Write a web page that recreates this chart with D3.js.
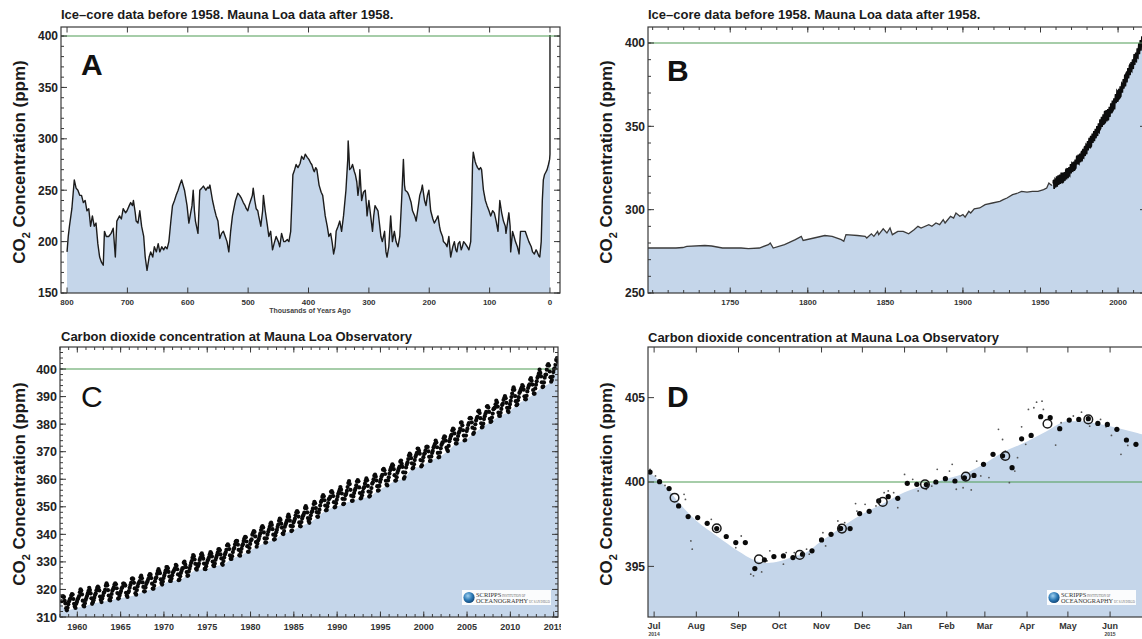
<!DOCTYPE html>
<html>
<head>
<meta charset="utf-8">
<script src="https://cdn.jsdelivr.net/npm/d3@7"></script>
<style>
  body { margin: 0; background: #fff; }
  svg { display: block; font-family: "Liberation Sans", Arial, Helvetica, sans-serif; }
</style>
</head>
<body>
<svg id="chart" width="1142" height="639"></svg>
<script>
// ---------------- data ----------------

// Ice-core CO2 over the last 800,000 years: [thousands of years ago, ppm]
const iceCore800k = [
  [800,190],[798,205],[796,215],[792,232],[788,260],[785,252],[782,250],[779,245],[776,245],[773,238],
  [770,240],[767,230],[764,232],[761,215],[758,225],[755,215],[752,218],[749,198],[746,185],[743,180],
  [740,177],[738,210],[735,205],[731,205],[727,208],[723.5,213],[720,185],[717.5,220],[713,225],[710,222],
  [707,232],[703,228],[700.6,230],[697,235],[694.6,238],[691.6,235],[690,240],[687,228],[685.5,220],[682.5,218],
  [679.5,230],[676.5,215],[673,205],[670.5,185],[667.5,172],[664,185],[661.4,190],[658,185],[655.4,195],[652,190],
  [649,198],[646.4,190],[643,195],[640,192],[637.3,195],[634.3,193],[631.3,200],[628,220],[625.3,235],[622,240],
  [619.3,245],[616,250],[613.3,255],[610.2,260],[605.4,250],[601.2,235],[598.2,218],[595.2,228],[593,235],[591,250],
  [589,230],[587.3,220],[583.1,208],[580.1,250],[577,252],[574.1,254],[570,250],[567,253],[565.1,252],[563.3,255],
  [559,240],[556,232],[553,225],[550,220],[547,203],[544,208],[541,210],[538,205],[535,200],[532,190],
  [529,210],[526,225],[521,240],[517,247],[514,245],[511,242],[508,238],[505,235],[503,232],[500.6,230],
  [498,236],[495.8,240],[493,245],[491.6,252],[489,240],[486.7,232],[484,230],[482.5,225],[479,215],[476,230],
  [474.7,245],[471.7,230],[468,215],[465.7,205],[462.7,210],[459.6,192],[457,198],[453.6,205],[450,200],[447.6,195],
  [444.6,208],[441,200],[438.6,200],[435,202],[432.5,200],[429.5,210],[427.5,240],[425.9,265],[423,270],[420.5,275],
  [417.5,272],[414,276],[411.4,283],[408,280],[405.4,285],[402,282],[399.4,280],[396,276],[394.6,275],[392,270],
  [390.4,268],[388,272],[386.1,270],[382.5,255],[379,248],[376.5,245],[372.3,225],[369,215],[366.3,205],[363.3,208],
  [361,200],[358.4,188],[356,195],[354.2,210],[351,215],[348.2,220],[345.2,210],[342,225],[340.4,235],[338,250],
  [335,280],[334.3,298],[333,285],[331.9,270],[329,272],[327.1,275],[324,268],[322.3,265],[320,258],[318.1,245],
  [316,255],[315,270],[313,250],[312,240],[309,248],[306,250],[304,235],[303,225],[300,240],[297,225],
  [294,210],[292,225],[289.8,235],[287,232],[284.9,230],[282,215],[280.1,205],[277.7,200],[274,210],[271.7,190],
  [269.9,185],[267,195],[263.9,225],[261,200],[257.8,210],[255,200],[251.8,195],[248.8,205],[245.8,240],[242.8,280],
  [241,255],[239.8,250],[236,248],[233.7,245],[230,238],[227.7,230],[224,225],[221.7,220],[218,235],[215.7,245],
  [213,250],[211.4,255],[209,245],[207.8,240],[205.4,235],[203,245],[200.6,250],[197.6,230],[194,222],[191.6,218],
  [188,222],[185.5,225],[183,215],[181.3,210],[178,205],[176.5,200],[173,198],[170.5,195],[167.5,205],[164.5,185],
  [161,195],[158.4,200],[156,192],[154.2,190],[152,198],[149.4,200],[147,192],[145.2,195],[143,200],[140.4,198],
  [137,195],[134.3,192],[131.3,200],[129.5,240],[128.3,275],[127.1,287],[124,278],[122.3,275],[120,272],[117.5,270],
  [115,272],[113.3,270],[110.2,250],[107,240],[104.2,235],[101,230],[98.2,225],[95,230],[92.2,228],[89.2,220],
  [86.1,210],[83.1,240],[80,228],[77.1,220],[74,215],[72.9,208],[70,220],[68.1,228],[66,215],[65.1,190],
  [62,210],[59.5,205],[57.2,200],[54,195],[51.2,188],[48.8,210],[45,210],[41,210],[38,205],[35,200],
  [31,195],[28.9,190],[25.9,188],[23,192],[21.1,190],[18.5,186],[16.9,185],[14.5,200],[12.7,240],[11,260],
  [9.1,265],[6.5,268],[4.8,270],[2.5,275],[0.6,280],[0,285],[0,401]
];

// Ice-core CO2 from 1700 to 1958: [year, ppm]
const iceCore300y = [
  [1697,277],[1705,277],[1715,277],[1719.5,277.3],[1722,278],[1733.6,278.5],[1738,278.2],[1745,277],[1757,277],[1761.7,276.6],
  [1768.8,277],[1774.6,279],[1775.8,280],[1777.7,277],[1785,279],[1792,282],[1795.8,284],[1797,281.5],[1804,283],[1811,284.5],
  [1815.7,284],[1821.6,282],[1823.2,281],[1824.6,285],[1832,284.5],[1837,284],[1838,283],[1841,285.5],[1842.6,284],[1845,287],
  [1845.7,285],[1848.6,288.5],[1851,286],[1853,289],[1854.5,285],[1858,287],[1861.5,287],[1865,285.5],[1868.5,288],[1871,290],
  [1873,289],[1878,291],[1880,290],[1882.6,292],[1885,291],[1887.3,294],[1888.5,292],[1892,296],[1894,295],[1895.5,298],
  [1898,296],[1900,297],[1901.4,295.5],[1903.8,299],[1905,298],[1907.3,300.5],[1910.8,301],[1914.3,303],[1919,304],[1923.8,305],
  [1926,306],[1928.4,307],[1932,309],[1935.4,310],[1937.8,311],[1941.3,310.5],[1944.8,311],[1948.4,311],[1952,312],[1954,313],
  [1955.4,316],[1956.6,315],[1957.5,314.5]
];

// Mauna Loa monthly means (ppm), one row per year, January..December
const mloFirstYear = 1958;
const mloMonthly = [
  [null,null,315.71,317.45,317.51,317.24,315.86,314.93,313.20,312.43,313.33,314.67],
  [315.62,316.38,316.71,317.72,318.29,318.15,316.54,314.80,313.84,313.26,314.80,315.58],
  [316.43,316.97,317.58,319.02,320.03,319.59,318.18,315.91,314.16,313.83,315.00,316.19],
  [316.93,317.70,318.54,319.48,320.58,319.77,318.57,316.79,314.80,315.38,316.10,317.01],
  [317.94,318.55,319.68,320.57,321.02,320.62,319.61,317.40,316.25,315.42,316.69,317.70],
  [318.74,319.07,319.86,321.38,322.25,321.48,319.74,317.77,316.21,315.99,317.07,318.35],
  [319.57,320.07,320.73,321.77,322.25,321.89,320.44,318.70,316.70,316.79,317.79,318.71],
  [319.44,320.44,320.89,322.13,322.16,321.87,321.39,318.81,317.81,317.30,318.87,319.42],
  [320.62,321.59,322.39,323.87,324.01,323.75,322.39,320.37,318.64,318.10,319.79,321.08],
  [322.07,322.50,323.04,324.42,325.00,324.09,322.55,320.92,319.31,319.31,320.72,321.96],
  [322.57,323.15,323.89,325.02,325.57,325.36,324.14,322.11,320.33,320.25,321.32,322.90],
  [324.00,324.42,325.64,326.66,327.38,326.70,325.89,323.67,322.38,321.78,322.85,324.12],
  [325.06,325.98,326.93,328.13,328.07,327.66,326.35,324.69,323.10,323.07,324.01,325.13],
  [326.17,326.68,327.18,327.78,328.92,328.57,327.34,325.46,323.36,323.57,324.80,326.01],
  [326.77,327.63,327.75,329.72,330.07,329.09,328.05,326.32,324.93,325.06,326.50,327.55],
  [328.55,329.56,330.30,331.50,332.48,332.07,330.87,329.31,327.51,327.18,328.16,328.64],
  [329.35,330.71,331.48,332.65,333.09,332.25,331.18,329.40,327.44,327.37,328.46,329.58],
  [330.45,330.98,331.70,332.80,333.59,333.11,331.98,330.11,328.75,328.44,329.39,330.75],
  [331.56,332.43,333.33,334.52,334.60,334.19,332.72,331.26,329.30,328.94,330.29,331.60],
  [332.72,333.41,334.35,335.95,336.40,335.96,334.64,332.36,331.11,331.05,332.06,333.57],
  [334.66,335.07,336.33,337.39,337.65,337.57,336.25,334.39,332.44,332.25,333.59,334.76],
  [335.89,336.44,337.63,338.54,339.06,338.95,337.41,335.71,333.68,333.69,335.05,336.53],
  [337.81,338.16,339.88,340.57,341.19,340.87,339.25,337.19,335.49,336.63,337.74,338.36],
  [339.44,340.33,341.57,342.56,343.01,342.47,340.71,338.52,336.96,337.13,338.58,339.89],
  [340.93,341.69,342.69,343.79,344.30,343.43,341.88,339.89,338.09,338.23,339.61,340.75],
  [341.61,342.70,343.57,344.92,345.70,345.22,343.88,342.41,340.31,340.09,341.20,342.74],
  [343.54,344.33,345.07,346.37,347.16,346.32,344.96,343.05,341.19,341.45,342.96,344.31],
  [344.93,345.70,346.90,348.02,348.48,348.00,346.44,344.34,343.07,342.91,344.45,345.74],
  [346.58,347.15,347.85,349.55,350.21,349.53,347.94,345.90,344.85,344.17,345.66,346.90],
  [348.02,348.47,349.42,350.99,351.84,351.25,349.52,348.10,346.44,346.36,347.81,348.96],
  [350.43,351.72,352.22,353.59,354.22,353.79,352.38,350.43,348.73,348.88,350.07,351.34],
  [352.76,353.07,353.68,355.42,355.67,355.13,353.90,351.67,349.80,349.99,351.30,352.52],
  [353.66,354.70,355.39,356.20,357.16,356.22,354.82,352.91,350.96,351.18,352.83,354.21],
  [354.72,355.75,357.16,358.60,359.34,358.24,356.17,354.02,352.15,352.21,353.75,354.99],
  [355.98,356.72,357.81,359.15,359.66,359.25,357.02,355.00,353.01,353.31,354.16,355.40],
  [356.70,357.16,358.38,359.46,360.28,359.60,357.57,355.52,353.70,353.98,355.33,356.80],
  [358.36,358.91,359.97,361.26,361.68,360.95,359.55,357.49,355.84,356.00,357.58,359.04],
  [359.96,361.00,361.64,363.45,363.79,363.26,361.90,359.46,358.06,357.75,359.56,360.70],
  [362.05,363.25,364.03,364.72,365.41,364.97,363.65,361.49,359.46,359.60,360.76,362.33],
  [363.18,363.99,364.56,366.36,366.80,365.63,364.47,362.50,360.19,360.78,362.43,364.28],
  [365.33,366.15,367.31,368.61,369.29,368.87,367.64,365.77,363.90,364.23,365.46,366.97],
  [368.15,368.87,369.59,371.14,371.00,370.35,369.27,366.94,364.63,365.12,366.67,368.01],
  [369.14,369.46,370.52,371.66,371.82,371.70,370.12,368.12,366.62,366.73,368.29,369.53],
  [370.28,371.50,372.12,372.87,374.02,373.30,371.62,369.55,367.96,368.09,369.68,371.24],
  [372.44,373.08,373.52,374.85,375.55,375.40,374.02,371.48,370.71,370.24,372.08,373.78],
  [374.68,375.62,376.11,377.65,378.35,378.13,376.62,374.50,372.99,373.01,374.35,375.70],
  [376.79,377.37,378.41,380.52,380.63,379.57,377.79,375.86,374.06,374.24,375.86,377.48],
  [378.37,379.69,380.41,382.10,382.28,382.13,380.66,378.71,376.42,376.88,378.32,379.92],
  [381.36,382.19,382.65,384.65,384.94,384.01,382.15,380.33,378.81,379.06,380.17,381.85],
  [382.88,383.77,384.42,386.36,386.53,386.01,384.45,381.96,380.81,381.09,382.37,383.84],
  [385.42,385.72,385.96,387.18,388.50,387.88,386.38,384.15,383.07,382.98,384.11,385.54],
  [386.92,387.41,388.77,389.46,390.18,389.43,387.74,385.91,384.77,384.38,385.99,387.26],
  [388.45,389.82,391.08,392.46,393.37,392.47,390.19,388.35,386.85,387.24,388.67,389.79],
  [391.33,391.86,392.60,393.25,394.19,393.74,392.51,390.13,389.08,389.00,390.28,391.86],
  [393.12,393.86,394.40,396.18,396.74,395.71,394.36,392.39,391.11,391.05,392.98,394.34],
  [395.55,396.80,397.43,398.41,399.78,398.60,397.32,395.20,393.45,393.70,395.16,396.84],
  [397.85,398.01,399.77,401.38,401.78,401.25,399.10,397.03,395.38,396.03,397.28,398.91],
  [399.98,400.28,401.54,403.28,403.96,402.80]
];

// Mauna Loa, July 2014 - June 2015
const mloDaily = [
  ["2014-06-28",400.75],["2014-07-02",400.36],["2014-07-09",399.80],["2014-07-23",399.27],["2014-07-24",398.97],
  ["2014-07-28",396.51],["2014-07-29",396.02],["2014-08-12",397.79],["2014-08-30",396.11],["2014-09-03",396.80],
  ["2014-09-10",394.54],["2014-09-12",394.44],["2014-09-18",394.67],["2014-09-22",395.33],["2014-09-24",395.92],
  ["2014-10-04",395.13],["2014-10-06",395.82],["2014-10-12",395.82],["2014-10-21",396.02],["2014-10-23",395.72],
  ["2014-11-02",397.00],["2014-11-04",396.21],["2014-11-13",397.69],["2014-11-14",397.44],["2014-11-18",397.59],
  ["2014-11-26",398.72],["2014-11-27",398.28],["2014-12-03",398.68],["2014-12-11",398.58],["2014-12-17",399.37],
  ["2014-12-20",399.47],["2014-12-24",399.37],["2014-12-27",398.48],["2015-01-01",400.45],["2015-01-07",400.16],
  ["2015-01-11",399.47],["2015-01-17",399.57],["2015-01-21",399.76],["2015-01-25",400.75],["2015-02-03",400.65],
  ["2015-02-05",401.05],["2015-02-08",399.57],["2015-02-13",399.66],["2015-02-14",400.16],["2015-02-19",399.53],
  ["2015-02-23",401.24],["2015-02-26",400.36],["2015-03-04",400.26],["2015-03-11",403.12],["2015-03-14",402.52],
  ["2015-03-16",401.83],["2015-03-19",399.96],["2015-03-23",400.65],["2015-03-25",401.44],["2015-03-28",403.27],
  ["2015-03-31",402.23],["2015-04-02",404.30],["2015-04-06",404.40],["2015-04-08",404.73],["2015-04-12",404.79],
  ["2015-04-13",404.30],["2015-04-18",403.67],["2015-04-22",402.19],["2015-04-26",403.51],["2015-05-05",403.91],
  ["2015-05-11",404.14],["2015-05-17",403.31],["2015-05-25",403.71],["2015-05-29",403.27],["2015-06-02",402.76],
  ["2015-06-09",401.64],["2015-06-14",402.17]
];
const mloWeekly = [
  ["2014-06-28",400.59],["2014-07-05",400.02],["2014-07-12",399.61],["2014-07-19",398.58],["2014-07-26",397.95],
  ["2014-08-02",397.89],["2014-08-09",397.55],["2014-08-16",397.24],["2014-08-23",396.77],["2014-08-30",396.41],
  ["2014-09-06",396.41],["2014-09-13",394.87],["2014-09-20",395.38],["2014-09-27",395.58],["2014-10-04",395.62],
  ["2014-10-11",395.52],["2014-10-18",395.72],["2014-10-25",395.92],["2014-11-01",396.57],["2014-11-08",396.90],
  ["2014-11-15",397.25],["2014-11-22",397.24],["2014-11-29",398.13],["2014-12-06",398.26],["2014-12-13",398.88],
  ["2014-12-20",399.13],["2014-12-27",399.03],["2015-01-03",399.92],["2015-01-10",399.86],["2015-01-17",399.85],
  ["2015-01-24",400.00],["2015-01-31",400.20],["2015-02-07",400.06],["2015-02-14",400.25],["2015-02-21",400.39],
  ["2015-02-28",401.05],["2015-03-07",401.64],["2015-03-14",401.55],["2015-03-21",400.85],["2015-03-28",402.56],
  ["2015-04-04",402.76],["2015-04-11",403.87],["2015-04-18",403.81],["2015-04-25",403.16],["2015-05-02",403.67],
  ["2015-05-09",403.71],["2015-05-16",403.75],["2015-05-23",403.47],["2015-05-30",403.41],["2015-06-06",403.12],
  ["2015-06-13",402.49],["2015-06-20",402.23]
];
const mloMonthMeans = [
  ["2014-07-16",399.07],["2014-08-16",397.26],["2014-09-16",395.42],["2014-10-16",395.68],["2014-11-16",397.24],
  ["2014-12-16",398.82],["2015-01-16",399.86],["2015-02-15",400.32],["2015-03-16",401.54],["2015-04-16",403.45],
  ["2015-05-16",403.71]
];
// smooth seasonal fit through the same year
const mloFit = [
  ["2014-06-26",400.7],["2014-07-01",400.35],["2014-07-09",399.76],["2014-07-20",398.7],["2014-08-01",397.7],
  ["2014-08-16",396.8],["2014-09-01",395.9],["2014-09-12",395.4],["2014-09-22",395.2],["2014-10-01",395.3],
  ["2014-10-12",395.6],["2014-10-20",395.8],["2014-11-01",396.5],["2014-11-17",397.4],["2014-12-01",398.1],
  ["2014-12-18",398.8],["2015-01-01",399.4],["2015-01-16",399.8],["2015-02-01",400.2],["2015-02-17",400.6],
  ["2015-03-01",401.1],["2015-03-13",401.7],["2015-04-01",402.4],["2015-04-15",403.0],["2015-05-01",403.6],
  ["2015-05-12",403.6],["2015-05-20",403.5],["2015-06-01",403.3],["2015-06-21",402.9],["2015-07-04",402.6]
];

const referenceLevel = 400;
const titleIce = "Ice\u2013core data before 1958. Mauna Loa data after 1958.";
const titleMlo = "Carbon dioxide concentration at Mauna Loa Observatory";
const ticksA = { x: [800,700,600,500,400,300,200,100,0], y: [150,200,250,300,350,400] };
const ticksB = { x: [1750,1800,1850,1900,1950,2000], y: [250,300,350,400] };
const ticksC = { x: [1960,1965,1970,1975,1980,1985,1990,1995,2000,2005,2010,2015],
                 y: [310,320,330,340,350,360,370,380,390,400] };
const ticksD = { y: [395,400,405], firstMonth: "2014-07-01", lastMonth: "2015-06-01" };
const yearNotesD = [["2014-07-01","2014"],["2015-06-01","2015"]];

// ---------------- drawing ----------------
const svg = d3.select("#chart");
const FILL = "rgb(197,214,234)";
const GREEN = "#4f9c55";
const AXIS = "#3a3a3a";
const parse = d3.timeParse("%Y-%m-%d");

// flatten the monthly table into [decimal year, ppm]
const mloSeries = [];
mloMonthly.forEach((row, i) => row.forEach((v, m) => {
  if (v != null) mloSeries.push([mloFirstYear + i + (m + 0.5) / 12, v]);
}));

function frame(g, box, x, y, o) {
  const t = g.append("g").attr("stroke", AXIS).attr("stroke-width", 1);
  const inX = px => px >= box.x0 - 0.5 && px <= box.x1 + 0.5;
  const xTick = (vals, len) => vals.forEach(v => {
    const px = x(v); if (!inX(px)) return;
    t.append("line").attr("x1", px).attr("x2", px).attr("y1", box.y1).attr("y2", box.y1 - len);
    t.append("line").attr("x1", px).attr("x2", px).attr("y1", box.y0).attr("y2", box.y0 + len);
  });
  const yTick = (vals, len) => vals.forEach(v => {
    const py = y(v); if (py < box.y0 - 0.5 || py > box.y1 + 0.5) return;
    t.append("line").attr("x1", box.x0).attr("x2", box.x0 + len).attr("y1", py).attr("y2", py);
    t.append("line").attr("x1", box.x1).attr("x2", box.x1 - len).attr("y1", py).attr("y2", py);
  });
  xTick(o.xMinor || [], 3); xTick(o.xMajor, 5.5);
  yTick(o.yMinor || [], 3); yTick(o.yMajor, 6);
  g.append("rect").attr("x", box.x0).attr("y", box.y0)
    .attr("width", box.x1 - box.x0).attr("height", box.y1 - box.y0)
    .attr("fill", "none").attr("stroke", AXIS).attr("stroke-width", 1.2);
  g.append("g").selectAll("text").data(o.yMajor).join("text")
    .attr("x", box.x0 - 3).attr("y", d => y(d)).attr("dy", "0.36em")
    .attr("text-anchor", "end").attr("font-size", o.yFont).attr("font-weight", "bold")
    .attr("fill", "#222").text(d => d);
  g.append("g").selectAll("text").data(o.xMajor).join("text")
    .attr("x", d => x(d)).attr("y", o.xBase)
    .attr("text-anchor", "middle").attr("font-size", o.xFont).attr("font-weight", "bold")
    .attr("fill", "#333").text(o.fmt || (d => d));
}

function refLine(g, box, y) {
  g.append("line").attr("x1", box.x0).attr("x2", box.x1)
    .attr("y1", y(referenceLevel)).attr("y2", y(referenceLevel))
    .attr("stroke", GREEN).attr("stroke-width", 1.1);
}

function titleText(g, x, yb, txt) {
  g.append("text").attr("x", x).attr("y", yb).attr("font-size", 13)
    .attr("font-weight", "bold").attr("fill", "#1a1a1a").text(txt);
}

function yLabel(g, x, yc) {
  const t = g.append("text").attr("transform", `translate(${x},${yc}) rotate(-90)`)
    .attr("text-anchor", "middle").attr("font-size", 17).attr("font-weight", "bold").attr("fill", "#1a1a1a");
  t.append("tspan").text("CO");
  t.append("tspan").attr("dy", 5).attr("font-size", 11).text("2");
  t.append("tspan").attr("dy", -5).text(" Concentration (ppm)");
}

function bigLetter(g, x, yb, ch, weight) {
  g.append("text").attr("x", x).attr("y", yb).attr("font-size", 30)
    .attr("font-weight", weight).attr("fill", "#111").text(ch);
}

function logo(g, x, y) {
  const l = g.append("g").attr("transform", `translate(${x},${y})`);
  l.append("rect").attr("width", 89).attr("height", 15).attr("fill", "#fbfcfd");
  l.append("circle").attr("cx", 7).attr("cy", 7.5).attr("r", 5.6).attr("fill", "url(#globe)");
  l.append("text").attr("x", 14).attr("y", 6.6).attr("font-family", "Liberation Serif, serif")
    .attr("font-size", 6.5).attr("fill", "#333").text("SCRIPPS")
    .append("tspan").attr("font-size", 3).attr("fill", "#666").text(" INSTITUTION OF");
  l.append("text").attr("x", 14).attr("y", 13).attr("font-family", "Liberation Serif, serif")
    .attr("font-size", 6.3).attr("fill", "#333").text("OCEANOGRAPHY")
    .append("tspan").attr("font-size", 3).attr("fill", "#666").text(" UC SAN DIEGO");
}

const defs = svg.append("defs");
const grad = defs.append("radialGradient").attr("id", "globe").attr("cx", "40%").attr("cy", "35%").attr("r", "65%");
grad.append("stop").attr("offset", "0%").attr("stop-color", "#9fd0f0");
grad.append("stop").attr("offset", "60%").attr("stop-color", "#2c79b5");
grad.append("stop").attr("offset", "100%").attr("stop-color", "#134a7c");

function clipFor(id, box) {
  defs.append("clipPath").attr("id", id).append("rect")
    .attr("x", box.x0).attr("y", box.y0).attr("width", box.x1 - box.x0).attr("height", box.y1 - box.y0);
  return `url(#${id})`;
}

// ---------- Panel A: 800,000 years ----------
{
  const box = { x0: 61, x1: 560, y0: 27, y1: 293 };
  const x = d3.scaleLinear().domain([810, -16.6]).range([box.x0, box.x1]);
  const y = d3.scaleLinear().domain([150, 408.8]).range([box.y1, box.y0]);
  const g = svg.append("g");
  const plot = g.append("g").attr("clip-path", clipFor("clipA", box));
  plot.append("path").datum(iceCore800k)
    .attr("d", d3.area().x(d => x(d[0])).y0(y(150)).y1(d => y(d[1])))
    .attr("fill", FILL);
  plot.append("path").datum(iceCore800k)
    .attr("d", d3.line().x(d => x(d[0])).y(d => y(d[1])))
    .attr("fill", "none").attr("stroke", "#1c1c1c").attr("stroke-width", 1.4).attr("stroke-linejoin", "round");
  refLine(plot, box, y);
  frame(g, box, x, y, { xMajor: ticksA.x, yMajor: ticksA.y, yMinor: d3.range(150, 410, 10),
    yFont: 12, xFont: 8, xBase: 305 });
  g.append("text").attr("x", 310).attr("y", 313).attr("text-anchor", "middle")
    .attr("font-size", 7).attr("font-weight", "bold").attr("fill", "#444").text("Thousands of Years Ago");
  titleText(g, 61, 19, titleIce);
  yLabel(g, 25, 162);
  bigLetter(g, 81, 75, "A", "bold");
}

// ---------- Panel B: 1700 to present ----------
{
  const box = { x0: 648, x1: 1146, y0: 27, y1: 293 };
  const x = d3.scaleLinear().domain([1697, 2018]).range([box.x0, box.x1]);
  const y = d3.scaleLinear().domain([250, 409.6]).range([box.y1, box.y0]);
  const g = svg.append("g");
  const plot = g.append("g").attr("clip-path", clipFor("clipB", box));
  const series = iceCore300y.concat(mloSeries);
  plot.append("path").datum(series)
    .attr("d", d3.area().x(d => x(d[0])).y0(y(250)).y1(d => y(d[1])))
    .attr("fill", FILL);
  plot.append("path").datum(iceCore300y)
    .attr("d", d3.line().x(d => x(d[0])).y(d => y(d[1])))
    .attr("fill", "none").attr("stroke", "#3b3b3b").attr("stroke-width", 1.3);
  plot.append("path").datum(mloSeries)
    .attr("d", d3.line().x(d => x(d[0])).y(d => y(d[1])))
    .attr("fill", "none").attr("stroke", "#0d0d0d").attr("stroke-width", 1.6);
  refLine(plot, box, y);
  frame(g, box, x, y, { xMajor: ticksB.x, xMinor: d3.range(1700, 2020, 10),
    yMajor: ticksB.y, yMinor: d3.range(250, 410, 10), yFont: 12, xFont: 8, xBase: 305 });
  titleText(g, 648, 19, titleIce);
  yLabel(g, 612, 162);
  bigLetter(g, 667, 81, "B", "bold");
}

// ---------- Panel C: Mauna Loa record ----------
{
  const box = { x0: 60, x1: 558, y0: 347, y1: 617 };
  const x = d3.scaleLinear().domain([1958, 2015.5]).range([box.x0, box.x1]);
  const y = d3.scaleLinear().domain([310, 408]).range([box.y1, box.y0]);
  defs.append("clipPath").attr("id", "panelC").append("rect")
    .attr("x", 0).attr("y", 320).attr("width", 561).attr("height", 319);
  const g = svg.append("g").attr("clip-path", "url(#panelC)");
  const plot = g.append("g").attr("clip-path", clipFor("clipC", box));
  // fill under each year's seasonal low
  const lows = Array.from(d3.group(mloSeries, d => Math.floor(d[0])).values())
    .map(rows => d3.least(rows, r => r[1]));
  const env = [[1958, mloSeries[0][1]]].concat(lows)
    .concat([[2015.6, mloSeries[mloSeries.length - 1][1]]]);
  plot.append("path").datum(env)
    .attr("d", d3.area().curve(d3.curveMonotoneX).x(d => x(d[0])).y0(y(310)).y1(d => y(d[1])))
    .attr("fill", FILL);
  refLine(plot, box, y);
  plot.append("g").selectAll("circle").data(mloSeries).join("circle")
    .attr("cx", d => x(d[0])).attr("cy", d => y(d[1])).attr("r", 2.1).attr("fill", "#0a0a0a");
  logo(plot, 462, 590);
  frame(g, box, x, y, { xMajor: ticksC.x, xMinor: d3.range(1958, 2016, 1),
    yMajor: ticksC.y, yMinor: d3.range(310, 408, 2), yFont: 12.5, xFont: 9, xBase: 630 });
  titleText(g, 61, 341, titleMlo);
  yLabel(g, 25, 484);
  bigLetter(g, 81, 407, "C", "normal");
}

// ---------- Panel D: one year at Mauna Loa ----------
{
  const box = { x0: 648, x1: 1155, y0: 347, y1: 617 };
  const start = new Date(2014, 5, 26, 12);
  const end = new Date(2015, 6, 4);
  const x = d3.scaleTime().domain([start, end]).range([box.x0, box.x1]);
  const y = d3.scaleLinear().domain([392, 408]).range([box.y1, box.y0]);
  const g = svg.append("g");
  const plot = g.append("g").attr("clip-path", clipFor("clipD", box));
  const fit = mloFit.map(d => [parse(d[0]), d[1]]);
  plot.append("path").datum(fit)
    .attr("d", d3.area().curve(d3.curveMonotoneX).x(d => x(d[0])).y0(y(392)).y1(d => y(d[1])))
    .attr("fill", FILL);
  refLine(plot, box, y);
  plot.append("g").selectAll("circle").data(mloDaily).join("circle")
    .attr("cx", d => x(parse(d[0]))).attr("cy", d => y(d[1])).attr("r", 0.9).attr("fill", "#555");
  plot.append("g").selectAll("circle").data(mloWeekly).join("circle")
    .attr("cx", d => x(parse(d[0]))).attr("cy", d => y(d[1])).attr("r", 2.6).attr("fill", "#0a0a0a");
  plot.append("g").selectAll("circle").data(mloMonthMeans).join("circle")
    .attr("cx", d => x(parse(d[0]))).attr("cy", d => y(d[1])).attr("r", 4.3)
    .attr("fill", "none").attr("stroke", "#1a1a1a").attr("stroke-width", 1.5);
  logo(plot, 1047, 590);
  const months = d3.timeMonth.range(parse(ticksD.firstMonth), d3.timeDay.offset(parse(ticksD.lastMonth), 1));
  frame(g, box, x, y, { xMajor: months, yMajor: ticksD.y, yFont: 12, xFont: 9, xBase: 629,
    fmt: d3.timeFormat("%b") });
  g.append("g").selectAll("text").data(yearNotesD).join("text")
    .attr("x", d => x(parse(d[0]))).attr("y", 636).attr("text-anchor", "middle")
    .attr("font-size", 5).attr("font-weight", "bold").attr("fill", "#444").text(d => d[1]);
  titleText(g, 648, 342, titleMlo);
  yLabel(g, 612, 484);
  bigLetter(g, 667, 407, "D", "bold");
}
</script>
</body>
</html>
